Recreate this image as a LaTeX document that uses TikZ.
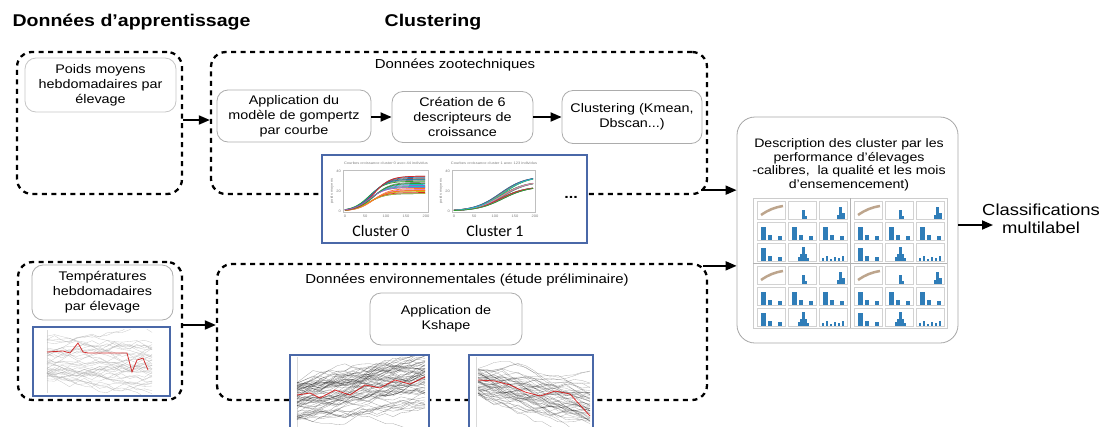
\documentclass[tikz,border=0pt]{standalone}
\usepackage{fontspec}
\setmainfont[FakeStretch=1.15]{Liberation Sans}
\newfontfamily\calib{Carlito}
\usetikzlibrary{arrows.meta,fit,calc}
\definecolor{frameblue}{HTML}{4A68A8}
\definecolor{barblue}{HTML}{2F7DB8}
\definecolor{t0}{HTML}{1F77B4}
\definecolor{t1}{HTML}{FF7F0E}
\definecolor{t2}{HTML}{2CA02C}
\definecolor{t3}{HTML}{D62728}
\definecolor{t4}{HTML}{9467BD}
\definecolor{t5}{HTML}{8C564B}
\definecolor{t6}{HTML}{E377C2}
\definecolor{t7}{HTML}{7F7F7F}
\definecolor{t8}{HTML}{BCBD22}
\definecolor{t9}{HTML}{17BECF}

\newcommand\minibars[2]{%
  \fill[barblue] ({#1+4},{#2}) rectangle ++(5,-13);
  \fill[barblue] ({#1+11},{#2}) rectangle ++(4,-5);
  \fill[barblue] ({#1+21},{#2}) rectangle ++(4,-4);}
\newcommand\gridpanel[2]{%
  \foreach \r in {0,1,2}{\foreach \c in {0,1,2}{
    \draw[gray!35,line width=0.3pt] ({#1+4+31*\c},{#2+3+21*\r}) rectangle ++(28,18);}}
  \draw[brown!55!gray,line width=2.5pt,opacity=.7] ({#1+8},{#2+17}) to[bend left=12] ({#1+30},{#2+8});
  \fill[barblue] ({#1+35+14},{#2+21}) rectangle ++(3,-9);
  \fill[barblue] ({#1+35+17},{#2+21}) rectangle ++(2,-3);
  \fill[barblue] ({#1+66+18},{#2+21}) rectangle ++(2,-4);
  \fill[barblue] ({#1+66+20},{#2+21}) rectangle ++(3,-12);
  \fill[barblue] ({#1+66+23},{#2+21}) rectangle ++(3,-6);
  \minibars{#1+4}{#2+42}\minibars{#1+35}{#2+42}\minibars{#1+66}{#2+42}
  \minibars{#1+4}{#2+63}
  \fill[barblue] ({#1+35+10},{#2+63}) rectangle ++(2,-4);
  \fill[barblue] ({#1+35+12},{#2+63}) rectangle ++(2,-7);
  \fill[barblue] ({#1+35+14},{#2+63}) rectangle ++(3,-14);
  \fill[barblue] ({#1+35+17},{#2+63}) rectangle ++(2,-7);
  \fill[barblue] ({#1+35+19},{#2+63}) rectangle ++(2,-3);
  \foreach \k/\h in {3/3,7/5,11/2,15/4,19/3,23/5}{
    \fill[barblue] ({#1+66+\k},{#2+63}) rectangle ++(2,-\h);}
}

\begin{document}
\begin{tikzpicture}[x=1pt,y=-1pt,
  outer/.style={draw,line width=2.3pt,dash pattern=on 5pt off 4.5pt,rounded corners=15pt,inner sep=0pt},
  inner/.style={draw=gray!65,line width=0.8pt,rounded corners=11pt,align=center,
                font=\fontsize{12.5}{15}\selectfont,inner sep=0pt},
  arr/.style={line width=1.8pt,-{Triangle[length=11pt,width=9pt]}},
  title/.style={font=\fontsize{17}{20}\selectfont\bfseries},
  subtitle/.style={font=\fontsize{13}{16}\selectfont},
  plotframe/.style={draw=frameblue,line width=1.3pt,fill=white,inner sep=0pt},
  tiny/.style={font=\fontsize{3.5}{4}\selectfont,text=gray,inner sep=0pt}]
\useasboundingbox (0,0) rectangle (1107,426);

% titles
\node[title,anchor=west] (T1) at (9,22) {Données d'apprentissage};
\node[title] (T2) at (433,22) {Clustering};

% outer dashed boxes
\node[outer,fit={(17,52) (182,194)}] (L1) {};
\node[outer,fit={(211,52) (707,194)}] (Z) {};
\node[outer,fit={(18,262) (182,400)}] (L2) {};
\node[outer,fit={(217,264) (707,400)}] (E) {};

% top row
\node[inner,minimum width=151pt,minimum height=54pt,draw=gray!45] (P) at (100.5,85) {Poids moyens\\hebdomadaires par\\élevage};
\node[subtitle] (Zt) at (455,65) {Données zootechniques};
\node[inner,minimum width=154pt,minimum height=52pt] (A) at (294,116) {Application du\\modèle de gompertz\\par courbe};
\node[inner,minimum width=141pt,minimum height=51pt] (C) at (462.5,117) {Création de 6\\descripteurs de\\croissance};
\node[inner,minimum width=140pt,minimum height=53pt] (K) at (632,117) {Clustering (Kmean,\\Dbscan...)};

\draw[arr] (L1.east |- 0,120) -- (Z.west |- 0,120);
\draw[arr] (A.east |- 0,117) -- (C.west |- 0,117);
\draw[arr] (C.east |- 0,117) -- (K.west |- 0,117);

% cluster image
\node[plotframe,fit={(322,155) (587,243)}] (CI) {};
\draw[gray!50,line width=0.3pt] (343,170) rectangle (428,212);
\draw[gray!50,line width=0.3pt] (452,170) rectangle (535,212);
\foreach \i in {0,...,24}{
  \pgfmathtruncatemacro\ci{mod(\i,10)}
  \pgfmathsetmacro\A{17+mod(\i*7,18)}
  \pgfmathsetmacro\m{0.30+0.012*mod(\i,6)}
  \draw[t\ci,line width=0.7pt] plot[domain=0:1,samples=16,smooth] ({345+80*\x},{211-41*\A/40/(1+exp(-(\x-\m)/0.1))});
}
\foreach \i in {0,...,24}{
  \pgfmathtruncatemacro\ci{mod(\i*3,10)}
  \pgfmathsetmacro\A{24+mod(\i*5,15)}
  \pgfmathsetmacro\m{0.58+0.01*mod(\i,5)}
  \draw[t\ci,line width=0.7pt] plot[domain=0:1,samples=16,smooth] ({454+79*\x},{211-41*\A/40/(1+exp(-(\x-\m)/0.16))});
}
\node[tiny] (c0t) at (386,163) {Courbes croissance cluster 0 avec 44 individus};
\node[tiny] (c1t) at (494,163) {Courbes croissance cluster 1 avec 123 individus};
\foreach \v/\yy in {40/171,20/191,0/211}{
  \node[tiny,anchor=east] (ya\v) at (341,\yy) {\v};
  \node[tiny,anchor=east] (yb\v) at (450,\yy) {\v};}
\foreach \v/\xx in {0/345,50/365,100/386,150/406,200/426}{
  \node[tiny] (xa\v) at (\xx,216) {\v};
  \node[tiny] (xb\v) at (\xx+109,216) {\v};}
\node[tiny,rotate=90] (yl0) at (332,191) {poids moyens};
\node[tiny,rotate=90] (yl1) at (441,191) {poids moyens};
\node[font=\calib\fontsize{16}{18}\selectfont] (cl0) at (381,231) {Cluster 0};
\node[font=\calib\fontsize{16}{18}\selectfont] (cl1) at (495,231) {Cluster 1};
\node[font=\fontsize{14}{16}\selectfont\bfseries] (dots) at (571,197) {...};

% description box
\node[draw=gray!70,line width=0.8pt,rounded corners=18pt,minimum width=221pt,minimum height=226pt] (D) at (847.5,230) {};
\node[font=\fontsize{12.3}{13.5}\selectfont,align=center] (Dt) at (849,165) {Description des cluster par les\\performance d'élevages\\-calibres,\ \ la qualité et les mois\\d'ensemencement)};
\node[draw=gray!40,line width=0.5pt,fill=white,inner sep=0pt,fit={(753,198) (947,328)}] (G) {};
\draw[gray!60,line width=0.6pt] (850,198) -- (850,328) (753,263) -- (947,263);
\gridpanel{753}{198}
\gridpanel{850}{198}
\gridpanel{753}{263}
\gridpanel{850}{263}

\coordinate (z1) at ([xshift=-7pt,yshift=5pt]Z.south east);
\draw[arr] (z1) -- (z1 -| D.west);
\coordinate (e1) at ([xshift=-5pt,yshift=-3pt]E.north east);
\draw[arr] (e1) -- (e1 -| D.west);

\node[font=\fontsize{16}{18}\selectfont,align=center] (CL) at (1041,219) {Classifications\\multilabel};
\coordinate (clin) at (993,225);
\draw[arr] (D.east |- clin) -- (clin);

% bottom-left
\node[inner,minimum width=141pt,minimum height=55pt] (T) at (102.5,292.5) {Températures\\hebdomadaires\\par élevage};
\node[plotframe,fit={(33,327) (170,396)}] (TP) {};
\pgfmathsetseed{7}
\begin{scope}
  \clip (35,329) rectangle (168,394);
  \draw[gray!30,line width=0.4pt] (47,330) -- (47,393);
  \foreach \k in {1,...,40}{
    \pgfmathsetmacro\ys{336+rnd*45}
    \draw[gray!70,line width=0.3pt,opacity=0.6] (47,\ys) \foreach \i in {1,...,14}{ -- ++(7.5,{rand*5}) };
  }
  \draw[red!80!black,line width=0.8pt,opacity=.8] (47,352) -- (63,351) -- (70,353) -- (78,343) -- (83,352) -- (88,353) -- (120,353) -- (127,353) -- (132,372) -- (137,360) -- (143,358) -- (148,370);
\end{scope}
\draw[arr] (L2.east |- 0,325) -- (E.west |- 0,325);

% environmental
\node[subtitle] (Et) at (467,280) {Données environnementales (étude préliminaire)};
\node[inner,minimum width=152pt,minimum height=52pt] (KS) at (446,319) {Application de\\Kshape};
\fill[white] (290,355) rectangle (429,427);
\fill[white] (469,355) rectangle (593,427);
\begin{scope}
  \clip (291,356) rectangle (428,427);
  \draw[gray!30,line width=0.4pt] (297,357) -- (297,427);
  \foreach \k in {1,...,70}{
    \pgfmathsetmacro\ys{380+rnd*40}
    \draw[black,line width=0.3pt,opacity=0.35] (297,\ys) \foreach \i in {1,...,16}{ -- ++(8,{-1.2+rand*5}) };
  }
  \draw[red!85!black,line width=0.8pt,opacity=.8] (297,395) -- (310,393) -- (320,398) -- (335,390) -- (350,395) -- (365,385) -- (380,388) -- (395,380) -- (410,384) -- (425,377);
\end{scope}
\begin{scope}
  \clip (470,356) rectangle (592,427);
  \draw[gray!30,line width=0.4pt] (476,357) -- (476,427);
  \foreach \k in {1,...,55}{
    \pgfmathsetmacro\ys{368+rnd*28}
    \draw[black,line width=0.3pt,opacity=0.3] (478,\ys) \foreach \i in {1,...,14}{ -- ++(8,{1.6+rand*5}) };
  }
  \draw[red!85!black,line width=0.8pt,opacity=.8] (478,380) -- (495,381) -- (510,385) -- (525,392) -- (540,396) -- (555,391) -- (570,394) -- (580,405) -- (590,416);
\end{scope}
\draw[frameblue,line width=1.3pt] (290,427) -- (290,355) -- (429,355) -- (429,427);
\draw[frameblue,line width=1.3pt] (469,427) -- (469,355) -- (593,355) -- (593,427);
\end{tikzpicture}
\end{document}
